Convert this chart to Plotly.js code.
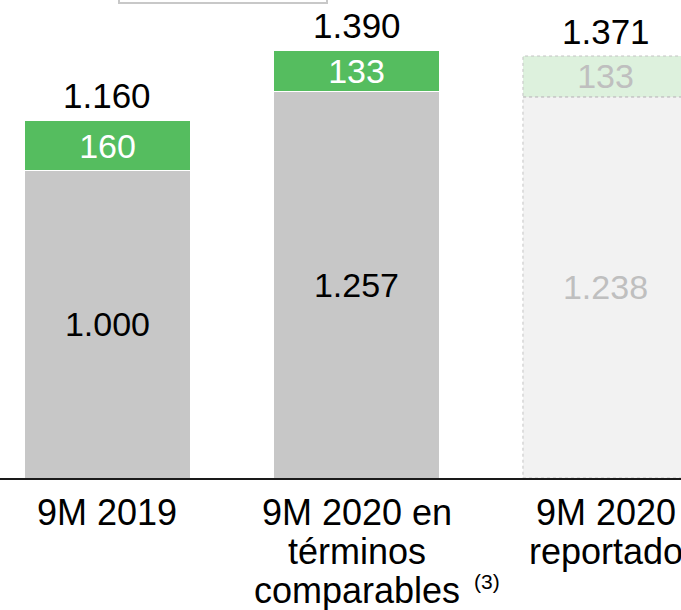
<!DOCTYPE html>
<html>
<head>
<meta charset="utf-8">
<script src="https://cdn.plot.ly/plotly-3.0.1.min.js"></script>
<style>
  html, body { margin: 0; padding: 0; background: #fff; }
  #chart { width: 681px; height: 610px; }
</style>
</head>
<body>
<div id="chart"></div>
<script>
// categories and the lines of their axis labels
const categories = ['9M 2019', '9M 2020 comparables', '9M 2020 reportado'];
const labelLines = [
    ['9M 2019'],
    ['9M 2020 en', 'términos', 'comparables'],
    ['9M 2020', 'reportado']
];
const footnote = '(3)'; // sits after "comparables"

// stacked values
const baseValues = [1000, 1257, 1238];
const extraValues = [160, 133, 133];
const baseText = ['1.000', '1.257', '1.238'];
const extraText = ['160', '133', '133'];
const totalText = ['1.160', '1.390', '1.371'];

const FONT = 'Liberation Sans, Arial, sans-serif';
const BAR_W = 0.663;
const faded = 2; // the "reportado" bar is drawn faded with a dotted outline

const baseTrace = {
    type: 'bar',
    x: categories,
    y: baseValues,
    width: BAR_W,
    text: baseText,
    textposition: 'inside',
    insidetextanchor: 'middle',
    textfont: {family: FONT, size: 34, color: ['#000', '#000', '#bfbfbf']},
    marker: {
        color: ['#c7c7c7', '#c7c7c7', '#f2f2f2'],
        line: {color: '#ffffff', width: [1, 1, 0]}
    },
    hoverinfo: 'none'
};

const extraTrace = {
    type: 'bar',
    x: categories,
    y: extraValues,
    width: BAR_W,
    text: extraText,
    textposition: 'inside',
    insidetextanchor: 'middle',
    textfont: {family: FONT, size: 34, color: ['#fff', '#fff', '#bfbfbf']},
    marker: {
        color: ['#55bd5f', '#55bd5f', '#ddf1dd'],
        line: {color: '#ffffff', width: [1, 1, 0]}
    },
    hoverinfo: 'none'
};

const annotations = [];

// totals on top of each bar
categories.forEach((c, i) => {
    annotations.push({
        x: c, y: baseValues[i] + extraValues[i],
        xref: 'x', yref: 'y',
        text: totalText[i],
        showarrow: false,
        yanchor: 'middle',
        yshift: 25,
        font: {family: FONT, size: 35, color: '#000'}
    });
});

// category labels (tight line spacing, so one annotation per line)
labelLines.forEach((lines, i) => {
    lines.forEach((line, j) => {
        annotations.push({
            x: categories[i], y: 0,
            xref: 'x', yref: 'paper',
            text: line,
            showarrow: false,
            yanchor: 'middle',
            yshift: -(34 + 39 * j),
            font: {family: FONT, size: 36, color: '#000'}
        });
    });
});
annotations.push({
    x: categories[1], y: 0,
    xref: 'x', yref: 'paper',
    text: footnote,
    showarrow: false,
    xanchor: 'left',
    yanchor: 'middle',
    xshift: 115,
    yshift: -103,
    font: {family: FONT, size: 21, color: '#000'}
});

// dotted outline of the faded bar, from the same values
const shapes = [
    {
        type: 'rect', xref: 'x', yref: 'y', layer: 'above',
        x0: faded - BAR_W / 2, x1: faded + BAR_W / 2,
        y0: 0, y1: baseValues[faded],
        line: {color: '#c4c4c4', width: 1, dash: 'dot'}
    },
    {
        type: 'rect', xref: 'x', yref: 'y', layer: 'above',
        x0: faded - BAR_W / 2, x1: faded + BAR_W / 2,
        y0: baseValues[faded], y1: baseValues[faded] + extraValues[faded],
        line: {color: '#c4c4c4', width: 1, dash: 'dot'}
    },
    // bottom edge of the legend box cut off at the top
    {
        type: 'rect', xref: 'paper', yref: 'paper',
        x0: 119 / 681, x1: 327 / 681, y0: 1 - 3 / 478, y1: 1.2,
        line: {color: '#c8c8c8', width: 2}
    }
];

const layout = {
    width: 681,
    height: 610,
    margin: {l: 0, r: 0, t: 0, b: 132},
    paper_bgcolor: '#fff',
    plot_bgcolor: '#fff',
    barmode: 'stack',
    showlegend: false,
    uniformtext: {mode: 'show', minsize: 34},
    xaxis: {
        type: 'category',
        range: [-0.4317, 2.3032],
        showticklabels: false,
        ticks: '',
        showgrid: false,
        zeroline: false,
        showline: true,
        linecolor: '#1a1a1a',
        linewidth: 2
    },
    yaxis: {
        range: [0, 1553],
        visible: false,
        showgrid: false,
        zeroline: false
    },
    annotations: annotations,
    shapes: shapes,
    font: {family: FONT}
};

Plotly.newPlot('chart', [baseTrace, extraTrace], layout, {displayModeBar: false, staticPlot: true});
</script>
</body>
</html>
